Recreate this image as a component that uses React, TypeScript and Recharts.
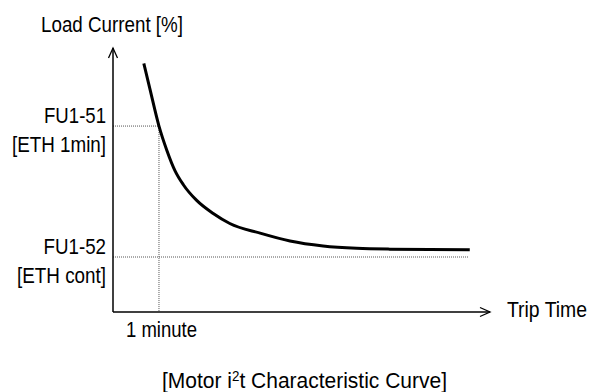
import React from 'react';
import {
  ComposedChart,
  Line,
  XAxis,
  YAxis,
  ReferenceLine,
  Customized,
} from 'recharts';

// trip time in minutes (1 minute tick), load current in %
const tripTime = [0.67, 0.8, 1.0, 1.17, 1.35, 1.53, 1.82, 2.18, 2.54, 3.2, 3.85, 4.57, 5.3, 6.02, 7.76];
const loadCurrent = [173.9, 164.4, 150, 140.8, 132.9, 127.6, 121.6, 116.6, 112.8, 109.1, 106.1, 104.2, 103.3, 103.0, 102.8];

const xDomain = [0, 8.2];
const yDomain = [79, 179.8];

const eth1min = 150;
const ethCont = 100;
const oneMinute = 1;
const contLineEnd = 7.74;

const yTickLabels: Record<number, [string, string]> = {
  150: ['FU1-51', '[ETH 1min]'],
  100: ['FU1-52', '[ETH cont]'],
};
const yTickWidths: Record<number, [number, number]> = {
  150: [62, 94],
  100: [62.5, 89],
};
const xTickLabel = '1 minute';

const data = tripTime.map((t, i) => ({ t, load: loadCurrent[i] }));

const FONT = '"Liberation Sans", Arial, sans-serif';
const FS = 22;

function YTick(props: any) {
  const { y, payload } = props;
  const lines = yTickLabels[payload.value];
  const widths = yTickWidths[payload.value];
  if (!lines) return null;
  const x = 106;
  return (
    <g>
      <text x={x} y={y - 3} textAnchor="end" fontFamily={FONT} fontSize={FS} fill="#000"
        textLength={widths[0]} lengthAdjust="spacingAndGlyphs">
        {lines[0]}
      </text>
      <text x={x} y={y + 25.5} textAnchor="end" fontFamily={FONT} fontSize={FS} fill="#000"
        textLength={widths[1]} lengthAdjust="spacingAndGlyphs">
        {lines[1]}
      </text>
    </g>
  );
}

function XTick(props: any) {
  const { x } = props;
  return (
    <text x={x + 2.5} y={337} textAnchor="middle" fontFamily={FONT} fontSize={FS} fill="#000"
      textLength={71} lengthAdjust="spacingAndGlyphs">
      {xTickLabel}
    </text>
  );
}

function Titles() {
  return (
    <g fontFamily={FONT} fontSize={FS} fill="#000">
      <text x={112} y={32} textAnchor="middle" textLength={142} lengthAdjust="spacingAndGlyphs">
        Load Current [%]
      </text>
      <text x={507} y={316.5} textAnchor="start" textLength={80} lengthAdjust="spacingAndGlyphs">
        Trip Time
      </text>
      <text x={162} y={388} textAnchor="start" textLength={285} lengthAdjust="spacingAndGlyphs">
        [Motor i<tspan fontSize={14} dy={-7}>2</tspan>
        <tspan dy={7}>t Characteristic Curve]</tspan>
      </text>
    </g>
  );
}

export default function App() {
  return (
    <div style={{ position: 'absolute', left: 0, top: 0, background: '#fff' }}>
      <svg width={0} height={0} style={{ position: 'absolute' }}>
        <defs>
          <marker id="arrowHead" viewBox="0 0 12 12" refX={10} refY={4.5}
            markerWidth={12} markerHeight={12} markerUnits="userSpaceOnUse"
            orient="auto-start-reverse" overflow="visible">
            <path d="M0,0 L10,4.5 L0,9" fill="none" stroke="#000" strokeWidth={1.3} />
          </marker>
        </defs>
      </svg>
      <ComposedChart
        width={590}
        height={392}
        data={data}
        margin={{ top: 48, right: 100, bottom: 79, left: 112 }}
      >
        <XAxis
          dataKey="t"
          type="number"
          domain={xDomain}
          ticks={[oneMinute]}
          tick={<XTick />}
          tickLine={false}
          height={1}
          axisLine={{ stroke: '#000', strokeWidth: 1.5, markerEnd: 'url(#arrowHead)' }}
          allowDataOverflow
        />
        <YAxis
          type="number"
          domain={yDomain}
          ticks={[ethCont, eth1min]}
          tick={<YTick />}
          tickLine={false}
          width={1}
          axisLine={{ stroke: '#000', strokeWidth: 1.5, markerStart: 'url(#arrowHead)' }}
          allowDataOverflow
        />
        <ReferenceLine
          segment={[{ x: 0, y: eth1min }, { x: oneMinute, y: eth1min }]}
          stroke="#555"
          strokeDasharray="1 1"
          strokeWidth={1}
        />
        <ReferenceLine
          segment={[{ x: oneMinute, y: eth1min }, { x: oneMinute, y: yDomain[0] }]}
          stroke="#555"
          strokeDasharray="1 1"
          strokeWidth={1}
        />
        <ReferenceLine
          segment={[{ x: 0, y: ethCont }, { x: contLineEnd, y: ethCont }]}
          stroke="#555"
          strokeDasharray="1 1"
          strokeWidth={1}
        />
        <Line
          type="monotone"
          dataKey="load"
          stroke="#000"
          strokeWidth={3}
          dot={false}
          activeDot={false}
          isAnimationActive={false}
        />
        <Customized component={<Titles />} />
      </ComposedChart>
    </div>
  );
}
